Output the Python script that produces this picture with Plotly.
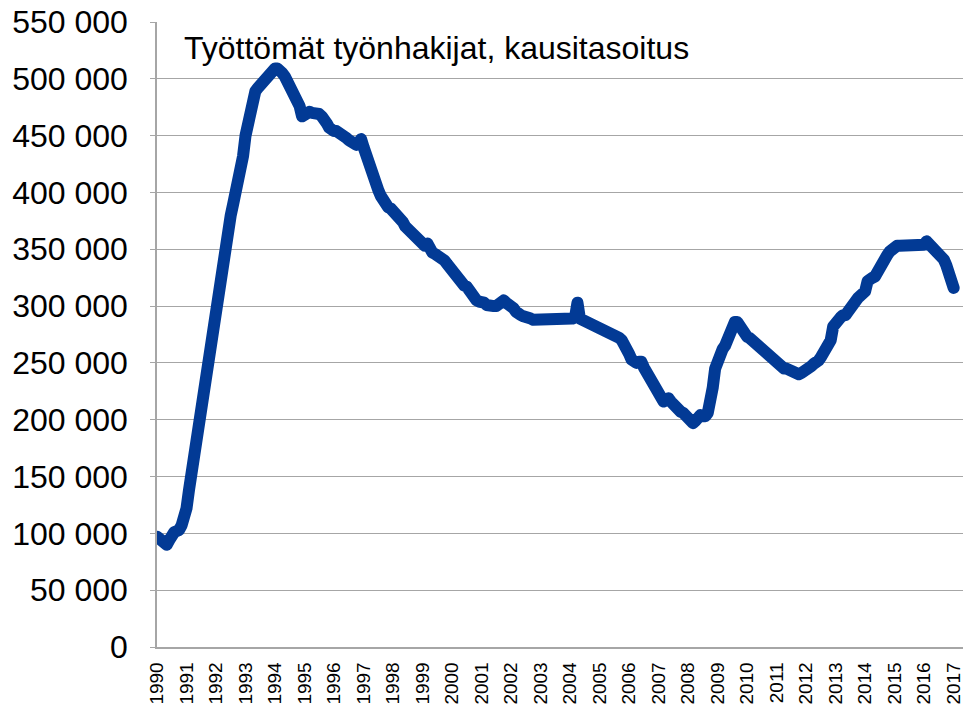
import plotly.graph_objects as go

# Monthly values (Jan 1990 ... Jan 2017)
y1990 = [97000, 95000, 93000, 91000, 90000, 94000, 100000, 101000, 102000, 103000, 107000, 114000]
y1991 = [122000, 138000, 153000, 168000, 182000, 198000, 215000, 228000, 240000, 255000, 270000, 284000]
y1992 = [299000, 312000, 326000, 345000, 362000, 370000, 380000, 390000, 398000, 410000, 420000, 432000]
y1993 = [450000, 462000, 476000, 485000, 489000, 492000, 495000, 498000, 501000, 504000, 507000, 508000]
y1994 = [509000, 509000, 508000, 505000, 502000, 498000, 494000, 490000, 486000, 483000, 476000, 467000]
y1995 = [469000, 471000, 471000, 470000, 470000, 469000, 469000, 467000, 465000, 461000, 457000, 454000]
y1996 = [454000, 454000, 453000, 452000, 450000, 448000, 446000, 445000, 443000, 442000, 444000, 447000]
y1997 = [440000, 432000, 426000, 420000, 415000, 410000, 402000, 397000, 392000, 389000, 387000, 386000]
y1998 = [384000, 382000, 380000, 377000, 374000, 370000, 368000, 366000, 363000, 360000, 358000, 357000]
y1999 = [354000, 353000, 355000, 349000, 347000, 346000, 345000, 344000, 341000, 340000, 337000, 334000]
y2000 = [330000, 326000, 323000, 321000, 320000, 318000, 317000, 313000, 309000, 307000, 305000, 304000]
y2001 = [304000, 303000, 301000, 300000, 299000, 300000, 300000, 302000, 304000, 305000, 303000, 302000]
y2002 = [301000, 298000, 295000, 292000, 292000, 291000, 291000, 290000, 289000, 288000, 288000, 288000]
y2003 = [289000, 289000, 289000, 289000, 288000, 288000, 288000, 288000, 288000, 287000, 287000, 288000]
y2004 = [288000, 289000, 290000, 303000, 289000, 288000, 287000, 287000, 286000, 285000, 283000, 282000]
y2005 = [281000, 280000, 279000, 278000, 277000, 276000, 275000, 274000, 272000, 270000, 267000, 263000]
y2006 = [258000, 253000, 250000, 250000, 251000, 251000, 246000, 242000, 238000, 234000, 231000, 227000]
y2007 = [223000, 219000, 216000, 217000, 219000, 216000, 213000, 211000, 209000, 207000, 206000, 204000]
y2008 = [201000, 199000, 197000, 199000, 203000, 204000, 203000, 203000, 206000, 214000, 228000, 245000]
y2009 = [253000, 258000, 262000, 265000, 270000, 279000, 283000, 286000, 286000, 282000, 277000, 276000]
y2010 = [273000, 272000, 270000, 268000, 265000, 263000, 261000, 258000, 256000, 254000, 252000, 250000]
y2011 = [248000, 246000, 245000, 245000, 245000, 244000, 242000, 240000, 240000, 240000, 241000, 242000]
y2012 = [244000, 245000, 247000, 249000, 250000, 252000, 255000, 258000, 263000, 266000, 270000, 282000]
y2013 = [286000, 289000, 290000, 292000, 292000, 295000, 299000, 302000, 304000, 307000, 309000, 311000]
y2014 = [313000, 322000, 325000, 325000, 326000, 331000, 336000, 339000, 342000, 345000, 348000, 351000]
y2015 = [352000, 353000, 353000, 353000, 354000, 354000, 354000, 353000, 353000, 353000, 352000, 353000]
y2016 = [354000, 357000, 355000, 353000, 351000, 349000, 347000, 345000, 341000, 336000, 330000, 324000]
y2017 = [316000]

year_labels = [str(y) for y in range(1990, 2018)]
title_text = "Työttömät työnhakijat, kausitasoitus"

values = (y1990 + y1991 + y1992 + y1993 + y1994 + y1995 + y1996 + y1997 + y1998
          + y1999 + y2000 + y2001 + y2002 + y2003 + y2004 + y2005 + y2006 + y2007
          + y2008 + y2009 + y2010 + y2011 + y2012 + y2013 + y2014 + y2015 + y2016 + y2017)
months = list(range(len(values)))
tick_pos = [12 * i for i in range(len(year_labels))]

FONT = "Liberation Sans, Arial, sans-serif"

fig = go.Figure()
fig.add_trace(go.Scatter(
    x=months, y=values, mode="lines",
    line=dict(color="#023a95", width=12),
    hoverinfo="skip", showlegend=False,
))

fig.update_layout(
    width=963, height=706,
    margin=dict(l=157, r=0, t=22, b=59),
    paper_bgcolor="white", plot_bgcolor="white",
    separators=", ",
    font=dict(family=FONT, color="black"),
    xaxis=dict(
        range=[0, 327.8], tickmode="array", tickvals=tick_pos, ticktext=year_labels,
        tickangle=-90, tickfont=dict(size=19, family=FONT, color="black"),
        showgrid=False, zeroline=False, showline=True, linecolor="#a6a6a6", linewidth=1.5,
        ticks="", ticklabelstandoff=6, automargin=False, ticklabeloverflow="allow",
    ),
    yaxis=dict(
        range=[0, 550000], tickmode="linear", tick0=0, dtick=50000, tickformat=",d",
        tickfont=dict(size=32, family=FONT, color="black"),
        showgrid=True, gridcolor="#a6a6a6", gridwidth=1.3, zeroline=False,
        showline=True, linecolor="#a6a6a6", linewidth=1.5,
        ticks="outside", ticklen=5, tickcolor="#a6a6a6", ticklabelstandoff=16,
        automargin=False,
    ),
    annotations=[dict(
        text=title_text, xref="paper", yref="paper",
        x=(182 - 157) / 806, y=(647 - 48) / 625, xanchor="left", yanchor="middle",
        showarrow=False, font=dict(size=32, family=FONT, color="black"),
    )],
)

page_fix = """
document.documentElement.style.margin='0'; document.body.style.margin='0'; document.body.style.padding='0';
var fix = function(){document.querySelectorAll('.scatterlayer .js-line').forEach(function(p){
  p.style.strokeLinejoin='round'; p.style.strokeLinecap='round';});};
fix(); var gd=document.getElementById('{plot_id}'); if(gd && gd.on){gd.on('plotly_afterplot', fix);}
"""
fig.write_html("out.html", post_script=page_fix, config={"displayModeBar": False})
